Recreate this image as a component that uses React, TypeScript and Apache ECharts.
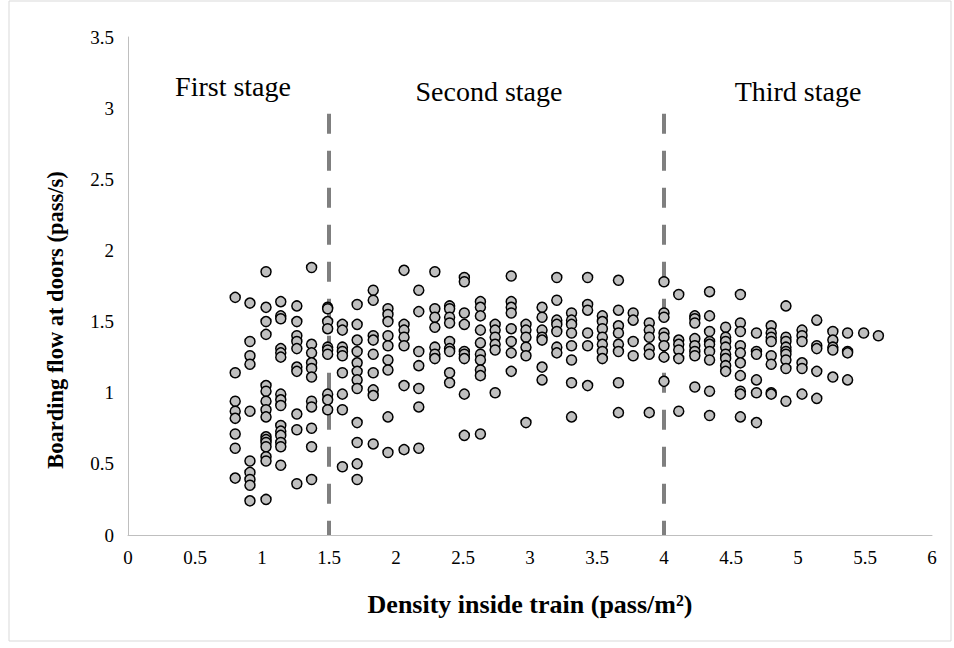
import React, { useEffect, useRef } from "react";
import * as echarts from "echarts";

const densityLevels = [
  0.8, 0.91, 1.03, 1.14, 1.26, 1.37, 1.49, 1.6, 1.71, 1.83, 1.94, 2.06, 2.17, 2.29, 2.4,
  2.51, 2.63, 2.74, 2.86, 2.97, 3.09, 3.2, 3.31, 3.43, 3.54, 3.66, 3.77, 3.89, 4.0, 4.11,
  4.23, 4.34, 4.46, 4.57, 4.69, 4.8, 4.91, 5.03, 5.14, 5.26, 5.37, 5.49, 5.6,
];

const flowByLevel = [
  [1.67, 1.14, 0.94, 0.87, 0.82, 0.71, 0.61, 0.4],
  [1.63, 1.36, 1.26, 1.2, 0.87, 0.52, 0.44, 0.39, 0.35, 0.24],
  [1.85, 1.6, 1.5, 1.41, 1.05, 1.01, 0.94, 0.88, 0.83, 0.69, 0.67, 0.65, 0.62, 0.55, 0.52, 0.25],
  [1.64, 1.54, 1.52, 1.31, 1.28, 1.25, 0.99, 0.95, 0.91, 0.77, 0.73, 0.7, 0.65, 0.62, 0.49],
  [1.61, 1.5, 1.4, 1.36, 1.31, 1.18, 1.15, 0.85, 0.74, 0.36],
  [1.88, 1.34, 1.28, 1.21, 1.17, 1.11, 0.94, 0.9, 0.75, 0.62, 0.39],
  [1.6, 1.59, 1.5, 1.45, 1.32, 1.3, 1.27, 0.99, 0.95, 0.88],
  [1.48, 1.44, 1.32, 1.29, 1.26, 1.14, 0.99, 0.88, 0.48],
  [1.62, 1.48, 1.37, 1.29, 1.21, 1.15, 1.09, 1.03, 0.79, 0.65, 0.5, 0.39],
  [1.72, 1.65, 1.4, 1.37, 1.27, 1.14, 1.02, 0.98, 0.64],
  [1.59, 1.55, 1.5, 1.4, 1.33, 1.23, 1.16, 0.83, 0.58],
  [1.86, 1.48, 1.44, 1.39, 1.33, 1.05, 0.6],
  [1.72, 1.57, 1.29, 1.19, 1.03, 0.9, 0.61],
  [1.85, 1.59, 1.53, 1.46, 1.32, 1.27, 1.24],
  [1.61, 1.59, 1.53, 1.49, 1.36, 1.31, 1.29, 1.14, 1.07],
  [1.81, 1.78, 1.56, 1.48, 1.29, 1.27, 1.24, 0.99, 0.7],
  [1.64, 1.6, 1.54, 1.44, 1.35, 1.27, 1.23, 1.16, 1.12, 0.71],
  [1.48, 1.44, 1.39, 1.34, 1.3, 1.0],
  [1.82, 1.64, 1.6, 1.56, 1.45, 1.36, 1.28, 1.15],
  [1.48, 1.44, 1.39, 1.32, 1.26, 0.79],
  [1.6, 1.53, 1.44, 1.39, 1.37, 1.18, 1.09],
  [1.81, 1.65, 1.51, 1.48, 1.43, 1.32, 1.28],
  [1.56, 1.51, 1.48, 1.42, 1.33, 1.23, 1.07, 0.83],
  [1.81, 1.62, 1.58, 1.42, 1.33, 1.05],
  [1.54, 1.5, 1.45, 1.39, 1.34, 1.29, 1.24],
  [1.79, 1.58, 1.47, 1.42, 1.34, 1.29, 1.07, 0.86],
  [1.56, 1.51, 1.36, 1.26],
  [1.49, 1.44, 1.39, 1.31, 1.27, 0.86],
  [1.78, 1.56, 1.53, 1.42, 1.39, 1.33, 1.25, 1.08],
  [1.69, 1.37, 1.34, 1.3, 1.24, 0.87],
  [1.54, 1.52, 1.49, 1.38, 1.33, 1.29, 1.26, 1.04],
  [1.71, 1.54, 1.43, 1.36, 1.34, 1.29, 1.23, 1.01, 0.84],
  [1.46, 1.39, 1.36, 1.32, 1.27, 1.24, 1.19, 1.15],
  [1.69, 1.49, 1.43, 1.33, 1.28, 1.21, 1.12, 1.01, 0.99, 0.83],
  [1.42, 1.29, 1.27, 1.09, 1.0, 0.79],
  [1.47, 1.42, 1.39, 1.36, 1.26, 1.2, 1.0, 0.99],
  [1.61, 1.39, 1.36, 1.32, 1.29, 1.27, 1.23, 1.17, 0.94],
  [1.44, 1.4, 1.36, 1.21, 1.17, 0.99],
  [1.51, 1.33, 1.31, 1.15, 0.96],
  [1.43, 1.37, 1.32, 1.3, 1.11],
  [1.42, 1.29, 1.28, 1.09],
  [1.42],
  [1.4],
];

const stageBoundaries = [1.5, 4];
const boundaryTop = 2.96;
const stageLabels = ["First stage", "Second stage", "Third stage"];
const xTitle = "Density inside train (pass/m²)";
const yTitle = "Boarding flow at doors (pass/s)";

const FONT = "'Liberation Serif', 'Times New Roman', serif";

export default function App() {
  const ref = useRef<HTMLDivElement>(null);

  useEffect(() => {
    document.body.style.margin = "0";
    if (!ref.current) return;
    const chart = echarts.init(ref.current, undefined, { renderer: "svg" });

    const points: number[][] = [];
    densityLevels.forEach((d, i) => {
      flowByLevel[i].forEach((f) => points.push([d, f]));
    });

    const boundarySeries = stageBoundaries.map((b) => ({
      type: "line",
      data: [
        [b, boundaryTop],
        [b, 0],
      ],
      symbol: "none",
      silent: true,
      z: 1,
      lineStyle: { color: "#7f7f7f", width: 4, type: [20, 17] },
    }));

    const stageX = [233, 489, 798];
    const stageY = [86, 91, 91];

    chart.setOption({
      animation: false,
      backgroundColor: "#ffffff",
      grid: { left: 128, right: 22, top: 37, bottom: 113 },
      xAxis: {
        type: "value",
        min: 0,
        max: 6,
        interval: 0.5,
        name: xTitle,
        nameLocation: "middle",
        nameGap: 56,
        nameTextStyle: { fontFamily: FONT, fontSize: 26, fontWeight: "bold", color: "#000" },
        axisLine: { show: true, lineStyle: { color: "#bfbfbf", width: 1 } },
        axisTick: { show: false },
        splitLine: { show: false },
        axisLabel: { fontFamily: FONT, fontSize: 19, color: "#000", margin: 13 },
      },
      yAxis: {
        type: "value",
        min: 0,
        max: 3.5,
        interval: 0.5,
        axisLine: { show: true, lineStyle: { color: "#bfbfbf", width: 1 } },
        axisTick: { show: false },
        splitLine: { show: false },
        axisLabel: { fontFamily: FONT, fontSize: 19, color: "#000", margin: 14 },
      },
      graphic: [
        {
          type: "rect",
          shape: { x: 9, y: 1, width: 942, height: 640 },
          style: { fill: "none", stroke: "#d9d9d9", lineWidth: 1 },
          silent: true,
          z: -10,
        },
        {
          type: "text",
          x: 55,
          y: 320,
          rotation: Math.PI / 2,
          style: {
            text: yTitle,
            fontFamily: FONT,
            fontSize: 22.5,
            fontWeight: "bold",
            fill: "#000",
            textAlign: "center",
            textVerticalAlign: "middle",
          },
        },
        ...stageLabels.map((t, i) => ({
          type: "text",
          x: stageX[i],
          y: stageY[i],
          style: {
            text: t,
            fontFamily: FONT,
            fontSize: 28,
            fill: "#000",
            textAlign: "center",
            textVerticalAlign: "middle",
          },
        })),
      ],
      series: [
        ...boundarySeries,
        {
          type: "scatter",
          data: points,
          symbol: "circle",
          symbolSize: 10,
          z: 5,
          itemStyle: { color: "#bfbfbf", borderColor: "#000", borderWidth: 1.5, opacity: 1 },
        },
      ],
    });

    return () => chart.dispose();
  }, []);

  return <div ref={ref} style={{ width: 954, height: 648 }} />;
}
